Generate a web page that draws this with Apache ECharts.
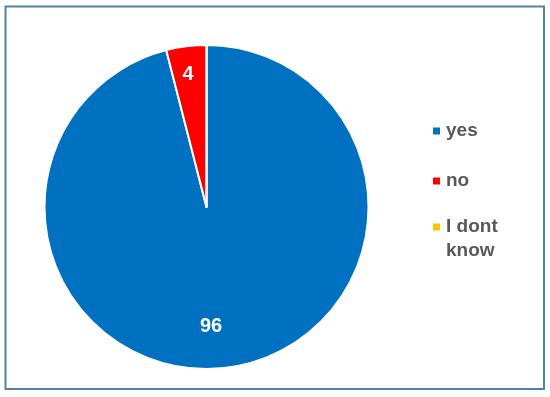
<!DOCTYPE html>
<html>
<head>
<meta charset="utf-8">
<script src="https://cdn.jsdelivr.net/npm/echarts@6/dist/echarts.min.js"></script>
<style>
html,body{margin:0;padding:0;background:#fff;}
#chart{width:550px;height:397px;}
</style>
</head>
<body>
<div id="chart"></div>
<script>
var categories = ['yes', 'no', 'I dont know'];
var values = [96, 4, 0];
var colors = ['#0070C0', '#FF0000', '#FFC000'];

var CX = 206.5, CY = 207, R = 162;
var labelShift = [[-6, 36], [-8, -49], [0, 0]];

var chart = echarts.init(document.getElementById('chart'));
var data = categories.map(function (c, i) {
  return { name: c, value: values[i], itemStyle: { color: colors[i] } };
});
var legendText = {
  fontFamily: 'Liberation Sans, Arial, sans-serif',
  fontWeight: 'bold',
  fontSize: 19,
  color: '#595959',
  lineHeight: 24
};
function mkLegend(name, top) {
  return {
    orient: 'vertical',
    left: 431,
    top: top,
    padding: 0,
    itemWidth: 9,
    itemHeight: 9,
    itemGap: 0,
    icon: 'rect',
    textStyle: legendText,
    formatter: function (n) {
      return n === 'I dont know' ? '\nI dont\nknow' : n;
    },
    data: [name]
  };
}
chart.setOption({
  animation: false,
  graphic: [{
    type: 'rect',
    shape: { x: 5.5, y: 6.5, width: 538.5, height: 382.5 },
    style: { fill: 'none', stroke: '#5182a5', lineWidth: 2 },
    silent: true
  }],
  legend: [
    mkLegend(categories[0], 119),
    mkLegend(categories[1], 169),
    mkLegend(categories[2], 191)
  ],
  series: [{
    type: 'pie',
    center: [CX, CY],
    radius: [0, R],
    startAngle: 90,
    clockwise: true,
    avoidLabelOverlap: false,
    itemStyle: { borderColor: '#ffffff', borderWidth: 2 },
    label: {
      show: true,
      position: 'inside',
      color: '#ffffff',
      fontFamily: 'Liberation Sans, Arial, sans-serif',
      fontWeight: 'bold',
      fontSize: 20,
      formatter: function (p) { return p.value > 0 ? String(p.value) : ''; }
    },
    labelLine: { show: false },
    labelLayout: function (params) {
      var s = labelShift[params.dataIndex];
      return { dx: s[0], dy: s[1] };
    },
    emphasis: { disabled: true },
    data: data
  }]
});
</script>
</body>
</html>
